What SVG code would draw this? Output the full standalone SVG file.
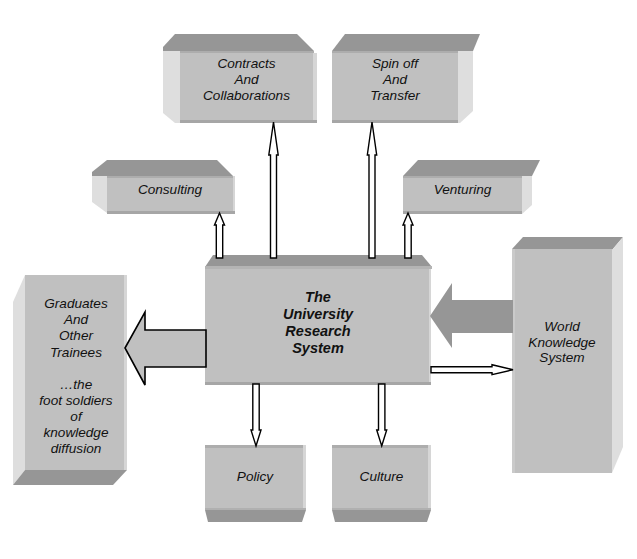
<svg xmlns="http://www.w3.org/2000/svg" width="637" height="559" viewBox="0 0 637 559">
<style>
.front{fill:#c0c0c0}
.top{fill:#969696}
.side{fill:#dedede}
.strip{fill:#adadad}
.bot{fill:#a6a6a6}
.edge{fill:#d6d6d6}
text{font-family:"Liberation Sans",Arial,sans-serif;font-style:italic;font-size:13.6px;fill:#111;text-anchor:middle}
.bold{font-weight:bold;font-size:14.5px}
.thin{fill:#fff;stroke:#000;stroke-width:1.4;stroke-linejoin:miter}
.big{fill:#c0c0c0;stroke:#000;stroke-width:1.6}
.gray{fill:#969696}
</style>
<rect width="637" height="559" fill="#fff"/>

<g id="contracts">
<polygon class="top" points="163,47 175,34 297,34 314,51 163,51"/>
<polygon class="side" points="163,51 180,51 180,123 175,123 163,113"/>
<rect class="front" x="180" y="51" width="133" height="69"/>
<rect class="strip" x="180" y="51" width="134" height="2"/>
<rect class="edge" x="313" y="53" width="4" height="67"/>
<rect class="bot" x="180" y="120" width="137" height="3"/>
<text x="246.5" y="68">Contracts</text>
<text x="246.5" y="84">And</text>
<text x="246.5" y="100">Collaborations</text>
</g>

<g id="spinoff">
<polygon class="top" points="332,51 345,34 480,34 473,51"/>
<polygon class="side" points="458,51 473,51 473,111 460,123 458,123"/>
<rect class="front" x="332" y="51" width="126" height="69"/>
<rect class="strip" x="332" y="51" width="126" height="2"/>
<rect class="bot" x="332" y="120" width="126" height="3"/>
<text x="395" y="68">Spin off</text>
<text x="395" y="84">And</text>
<text x="395" y="100">Transfer</text>
</g>

<g id="consulting">
<polygon class="top" points="92,172 107,160 217,160 233,176 92,176"/>
<polygon class="side" points="92,176 107,176 107,213 92,202"/>
<rect class="front" x="107" y="176" width="126" height="36"/>
<rect class="strip" x="107" y="176" width="126" height="2"/>
<rect class="edge" x="233" y="176" width="2" height="36"/>
<rect class="bot" x="107" y="211" width="128" height="3"/>
<text x="170" y="194">Consulting</text>
</g>

<g id="venturing">
<polygon class="top" points="403,176 418,160 540,160 532,176"/>
<polygon class="side" points="522,176 532,176 532,205 522,214"/>
<rect class="front" x="403" y="176" width="119" height="36"/>
<rect class="strip" x="403" y="176" width="119" height="2"/>
<rect class="bot" x="403" y="211" width="119" height="3"/>
<text x="462.5" y="194">Venturing</text>
</g>

<g id="center">
<polygon class="top" points="205,267 213,255 422,255 432,267"/>
<rect class="front" x="205" y="267" width="226" height="116"/>
<rect fill="#b4b4b4" x="205" y="266" width="227" height="3"/>
<rect class="edge" x="429" y="269" width="2" height="114"/>
<rect class="bot" x="205" y="382" width="226" height="3"/>
<text class="bold" x="318" y="301.5">The</text>
<text class="bold" x="318" y="318.5">University</text>
<text class="bold" x="318" y="336">Research</text>
<text class="bold" x="318" y="353">System</text>
</g>

<g id="graduates">
<polygon class="side" points="13,302 25,275 25,470 13,485"/>
<rect class="front" x="25" y="275" width="102" height="195"/>
<rect class="edge" x="124" y="275" width="3" height="195"/>
<polygon class="top" points="25,470 127,470 113,485 13,485"/>
<text x="76" y="308">Graduates</text>
<text x="76" y="324.2">And</text>
<text x="76" y="340.4">Other</text>
<text x="76" y="356.6">Trainees</text>
<text x="76" y="388.5">…the</text>
<text x="76" y="404.5">foot soldiers</text>
<text x="76" y="420.5">of</text>
<text x="76" y="436.5">knowledge</text>
<text x="76" y="452.5">diffusion</text>
</g>

<g id="world">
<polygon class="top" points="512,249 523,237 623,237 612,250"/>
<rect class="front" x="512" y="249" width="100" height="224"/>
<rect fill="#cacaca" x="512" y="249" width="3" height="224"/>
<polygon class="side" points="612,250 623,237 623,447 612,473"/>
<text x="562" y="331">World</text>
<text x="562" y="347">Knowledge</text>
<text x="562" y="362">System</text>
</g>

<g id="policy">
<rect class="front" x="205" y="445" width="100" height="64"/>
<rect class="strip" x="205" y="445" width="100" height="3"/>
<rect class="edge" x="303" y="445" width="3" height="64"/>
<rect fill="#b0b0b0" x="205" y="508" width="101" height="2"/>
<polygon class="top" points="205,510 306,510 302,522 208,522"/>
<text x="255" y="480.5">Policy</text>
</g>

<g id="culture">
<rect class="front" x="332" y="445" width="98" height="64"/>
<rect class="strip" x="332" y="445" width="98" height="3"/>
<rect class="edge" x="428" y="445" width="3" height="64"/>
<rect fill="#b0b0b0" x="332" y="508" width="99" height="2"/>
<polygon class="top" points="332,510 431,510 427,522 335,522"/>
<text x="381.5" y="480.5">Culture</text>
</g>

<g id="connectors">
<polygon class="gray" points="430,316 452,283 452,300 513,300 513,333 452,333 452,348"/>
<polygon class="big" points="125,348 145,312 145,330 206,330 206,367 145,367 145,385"/>
<polygon class="thin" points="273.5,122 278.2,155 276.5,155 276.5,258 270.5,258 270.5,155 268.8,155"/>
<polygon class="thin" points="372,122 376.7,155 375,155 375,258 369,258 369,155 367.3,155"/>
<polygon class="thin" points="219.5,213 224.5,225 222.7,225 222.7,258 216.3,258 216.3,225 214.5,225"/>
<polygon class="thin" points="408,213 413,225 411.2,225 411.2,258 404.8,258 404.8,225 403,225"/>
<polygon class="thin" points="256,446 261,430 259.2,430 259.2,384 252.8,384 252.8,430 251,430"/>
<polygon class="thin" points="381.7,446 386.7,430 384.9,430 384.9,384 378.5,384 378.5,430 376.7,430"/>
<polygon class="thin" points="513,369.7 492,374.7 492,372.7 431,372.7 431,366.7 492,366.7 492,364.7"/>
</g>
</svg>
